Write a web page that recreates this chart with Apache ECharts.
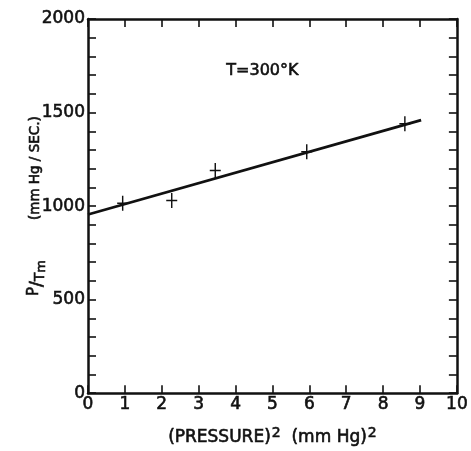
<!DOCTYPE html>
<html>
<head>
<meta charset="utf-8">
<script src="https://cdn.jsdelivr.net/npm/echarts@6/dist/echarts.min.js"></script>
<style>
html,body{margin:0;padding:0;background:#fff;}
#c{width:471px;height:451px;}
</style>
</head>
<body>
<div id="c"></div>
<script>
// Measured points: (pressure)^2 vs P/Tm
var pressureSq = [0.94, 2.27, 3.45, 5.93, 8.59];
var pOverTm = [1015, 1030, 1190, 1290, 1440];
// Fitted straight line endpoints
var fitX = [0, 9.03];
var fitY = [955, 1460];
var xTicks = [0, 1, 2, 3, 4, 5, 6, 7, 8, 9, 10];
var yLabels = [0, 500, 1000, 1500, 2000];
var annotation = 'T=300°K';

var FONT = 'DejaVu Sans';
var INK = '#111';
var heavy = {textBorderColor: INK, textBorderWidth: 0.6};
function rs(o) { return Object.assign({fontFamily: FONT, color: INK}, heavy, o); }

var chart = echarts.init(document.getElementById('c'), null, {renderer: 'canvas'});
var crossPath = 'path://M-0.13,-1 L0.13,-1 L0.13,1 L-0.13,1 Z M-1,-0.1 L1,-0.1 L1,0.1 L-1,0.1 Z';

var axisLine = {show: true, onZero: false, lineStyle: {color: INK, width: 2.5}};
var tick = {show: true, inside: true, length: 8, lineStyle: {color: INK, width: 1.6}};

chart.setOption({
  animation: false,
  backgroundColor: '#fff',
  grid: {left: 88, right: 8, top: 19, bottom: 48, containLabel: false},
  xAxis: [{
    type: 'value', min: 0, max: 10, interval: 1, position: 'bottom',
    axisLine: axisLine, axisTick: tick, splitLine: {show: false},
    axisLabel: rs({fontSize: 17, margin: 3,
      formatter: function (v) { return xTicks.indexOf(v) >= 0 ? String(v) : ''; }}),
    name: '(PRESSURE){s|2}  (mm Hg){s|2}',
    nameLocation: 'middle', nameGap: 33, nameMoveOverlap: false,
    nameTextStyle: rs({fontSize: 17,
      rich: {s: rs({fontSize: 14, verticalAlign: 'top', padding: [0, 0, 8, 1]})}})
  }, {
    type: 'value', min: 0, max: 10, interval: 1, position: 'top',
    axisLine: axisLine, axisTick: tick, splitLine: {show: false},
    axisLabel: {show: false}
  }],
  yAxis: [{
    type: 'value', min: 0, max: 2000, interval: 100, position: 'left',
    axisLine: axisLine, axisTick: tick, splitLine: {show: false},
    axisLabel: rs({fontSize: 17, margin: 3,
      formatter: function (v) { return yLabels.indexOf(v) >= 0 ? String(v) : ''; }}),
    name: '{p|P}{sl|/}{t|T}{m|m}{q|(mm Hg / SEC.)}',
    nameLocation: 'middle', nameRotate: 90, nameGap: 40, nameMoveOverlap: false,
    nameTextStyle: rs({fontSize: 14,
      rich: {
        p: rs({fontSize: 15, verticalAlign: 'top', padding: [0, 0, 6, 0]}),
        sl: rs({fontSize: 17}),
        t: rs({fontSize: 14, padding: [6, 0, 0, 0]}),
        m: rs({fontSize: 13, verticalAlign: 'bottom', padding: [8, 40, 0, 0]}),
        q: rs({fontSize: 13.5, padding: [0, 0, 4, 0]})
      }})
  }, {
    type: 'value', min: 0, max: 2000, interval: 100, position: 'right',
    axisLine: axisLine, axisTick: tick, splitLine: {show: false},
    axisLabel: {show: false}
  }],
  graphic: [{
    type: 'text', left: 226, top: 63,
    style: {text: annotation, fontFamily: FONT, fontSize: 16, fill: INK, stroke: INK, lineWidth: 0.6}
  }],
  series: [{
    type: 'line', xAxisIndex: 0, yAxisIndex: 0,
    data: fitX.map(function (x, i) { return [x, fitY[i]]; }),
    showSymbol: false, symbol: 'none',
    lineStyle: {color: INK, width: 2.8}
  }, {
    type: 'scatter', xAxisIndex: 0, yAxisIndex: 0,
    data: pressureSq.map(function (x, i) { return [x, pOverTm[i]]; }),
    symbol: crossPath, symbolSize: [11, 15],
    itemStyle: {color: INK, opacity: 1}
  }]
});
</script>
</body>
</html>
